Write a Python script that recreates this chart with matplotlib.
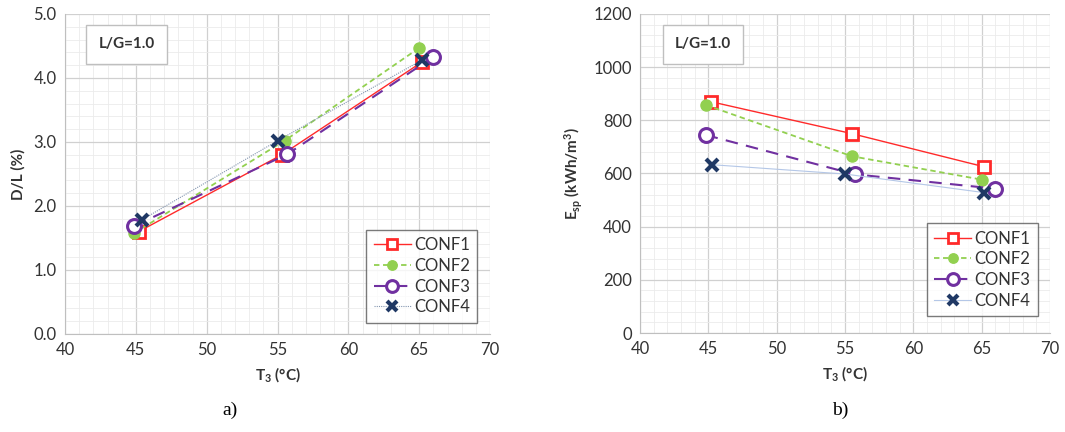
import matplotlib
matplotlib.use("Agg")
import matplotlib.pyplot as plt
from matplotlib.ticker import MultipleLocator, FormatStrFormatter

plt.rcParams['font.family'] = ['Lato', 'DejaVu Sans']
plt.rcParams['mathtext.fontset'] = 'custom'
plt.rcParams['mathtext.rm'] = 'Lato:bold'
plt.rcParams['mathtext.bf'] = 'Lato:bold'
plt.rcParams['mathtext.it'] = 'Lato:bold'

series = ["CONF1", "CONF2", "CONF3", "CONF4"]

# Panel a) D/L (%)
a_x = {"CONF1": [45.2, 55.3, 65.2], "CONF2": [44.9, 55.5, 65.0],
       "CONF3": [44.9, 55.7, 66.0], "CONF4": [45.4, 55.0, 65.2]}
a_y = {"CONF1": [1.60, 2.80, 4.25], "CONF2": [1.58, 3.02, 4.47],
       "CONF3": [1.69, 2.81, 4.33], "CONF4": [1.78, 3.02, 4.28]}

# Panel b) Esp (kWh/m3)
b_x = {"CONF1": [45.2, 55.5, 65.2], "CONF2": [44.8, 55.5, 65.0],
       "CONF3": [44.8, 55.7, 66.0], "CONF4": [45.3, 55.0, 65.2]}
b_y = {"CONF1": [870, 750, 625], "CONF2": [858, 665, 577],
       "CONF3": [745, 597, 543], "CONF4": [633, 598, 528]}

styles = {
    "CONF1": dict(color="#FF2A2A", ls="-", lw=1.0, marker="s", ms=9, mfc="white",
                  mec="#FF2A2A", mew=2.0),
    "CONF2": dict(color="#92D050", ls=(0, (3, 2)), lw=1.3, marker="o", ms=8,
                  mfc="#92D050", mec="#92D050", mew=1.0),
    "CONF3": dict(color="#7030A0", ls=(0, (6, 4)), lw=1.5, marker="o", ms=10,
                  mfc="white", mec="#7030A0", mew=2.2),
    "CONF4a": dict(color="#8496B0", ls=(0, (1, 1)), lw=0.8, marker="x", ms=8,
                   mfc="#1F3864", mec="#1F3864", mew=3.0),
    "CONF4b": dict(color="#B4C7E7", ls="-", lw=0.8, marker="x", ms=8,
                   mfc="#1F3864", mec="#1F3864", mew=3.0),
}

W, H = 1065, 432
fig = plt.figure(figsize=(W / 100, H / 100), dpi=100)

def add_ax(l, r, t, b):
    return fig.add_axes([l / W, 1 - b / H, (r - l) / W, (b - t) / H])

ax1 = add_ax(65, 490, 14, 334)
ax2 = add_ax(640, 1050, 14, 333)

def style_ax(ax):
    ax.set_xlim(40, 70)
    ax.xaxis.set_major_locator(MultipleLocator(5))
    ax.xaxis.set_minor_locator(MultipleLocator(1))
    ax.grid(True, which="major", color="#D0D0D0", lw=0.9)
    ax.grid(True, which="minor", color="#EBEBEB", lw=0.6)
    ax.set_axisbelow(True)
    for s in ["top", "right"]:
        ax.spines[s].set_visible(False)
    for s in ["left", "bottom"]:
        ax.spines[s].set_color("#BFBFBF")
    ax.tick_params(which="both", length=0, labelsize=12, colors="#333333", pad=6)
    ax.set_xlabel("T$_3$ (°C)", fontsize=11, fontweight="bold", color="#333333", labelpad=5)

style_ax(ax1)
ax1.set_ylim(0, 5)
ax1.yaxis.set_major_locator(MultipleLocator(1))
ax1.yaxis.set_minor_locator(MultipleLocator(0.2))
ax1.yaxis.set_major_formatter(FormatStrFormatter("%.1f"))
ax1.set_ylabel("D/L (%)", fontsize=11, fontweight="bold", color="#333333", labelpad=6)

style_ax(ax2)
ax2.set_ylim(0, 1200)
ax2.yaxis.set_major_locator(MultipleLocator(200))
ax2.yaxis.set_minor_locator(MultipleLocator(40))
ax2.set_ylabel("E$_{sp}$ (kWh/m$^{3}$)", fontsize=11,
               fontweight="bold", color="#333333", labelpad=6)

for name in series:
    st1 = styles["CONF4a"] if name == "CONF4" else styles[name]
    st2 = styles["CONF4b"] if name == "CONF4" else styles[name]
    ax1.plot(a_x[name], a_y[name], label=name, **st1)
    ax2.plot(b_x[name], b_y[name], label=name, **st2)

legpos = {ax1: (0.97, 0.035), ax2: (0.97, 0.053)}
for ax in (ax1, ax2):
    leg = ax.legend(loc="lower right", bbox_to_anchor=legpos[ax], fontsize=12,
                    frameon=True, fancybox=False, edgecolor="#595959",
                    handlelength=2.2, handletextpad=0.2, labelspacing=0.28,
                    borderpad=0.45, borderaxespad=0.0, markerscale=0.85,
                    labelcolor="#333333")
    leg.get_frame().set_linewidth(1.0)

ax1.text(0.145, 0.905, "L/G=1.0", transform=ax1.transAxes, fontsize=11,
         fontweight="bold", color="#333333", ha="center", va="center",
         bbox=dict(boxstyle="square,pad=0.8", fc="white", ec="#BFBFBF", lw=1.0))
ax2.text(0.154, 0.905, "L/G=1.0", transform=ax2.transAxes, fontsize=11,
         fontweight="bold", color="#333333", ha="center", va="center",
         bbox=dict(boxstyle="square,pad=0.8", fc="white", ec="#BFBFBF", lw=1.0))

fig.text(230 / W, 1 - 410 / H, "a)", fontsize=14, family="Liberation Serif",
         ha="center", va="center")
fig.text(840 / W, 1 - 410 / H, "b)", fontsize=14, family="Liberation Serif",
         ha="center", va="center")

fig.savefig("out.png", dpi=100)
